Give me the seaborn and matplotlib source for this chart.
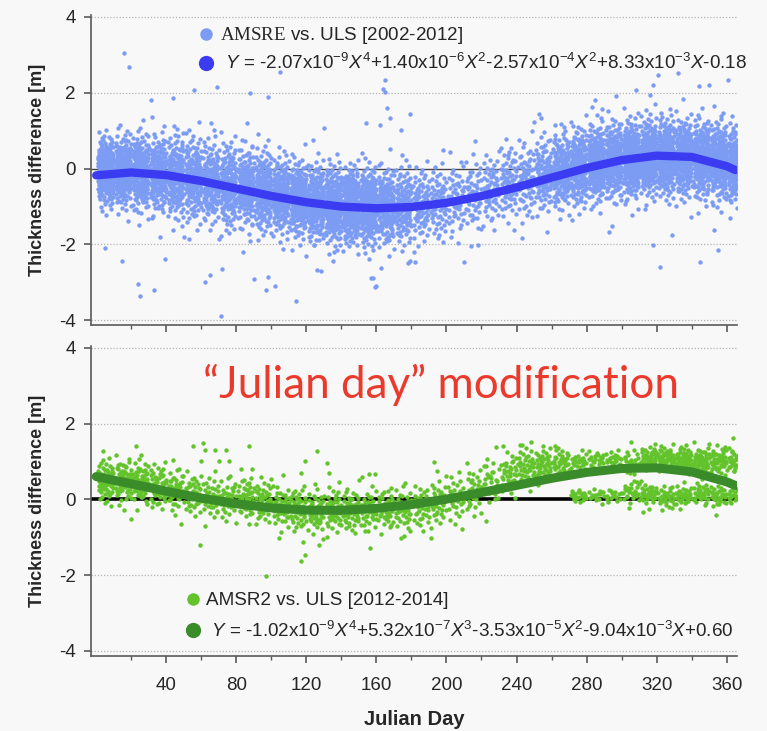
import matplotlib
matplotlib.use("Agg")
import matplotlib.pyplot as plt
import numpy as np
import pandas as pd
import seaborn as sns
from matplotlib.lines import Line2D
from matplotlib.ticker import FixedLocator, MultipleLocator
from statistics import NormalDist

# ---------------------------------------------------------------------------
# values
# ---------------------------------------------------------------------------
# AMSRE vs ULS: 10-day bins -> bin start, centre of the cloud, spread, number of dots
amsre_bin_start = list(range(0, 370, 10))
amsre_centre = [-0.05, -0.05, -0.1, -0.15, -0.2, -0.25, -0.35, -0.45, -0.5, -0.6,
                -0.7, -0.8, -0.9, -0.95, -1.0, -1.0, -1.0, -1.0, -0.95, -0.9,
                -0.8, -0.7, -0.55, -0.4, -0.3, -0.15, -0.05, 0.05, 0.15, 0.2,
                0.25, 0.3, 0.3, 0.3, 0.25, 0.2, 0.1]
amsre_spread = [0.45, 0.45, 0.5, 0.5, 0.55, 0.55, 0.55, 0.55, 0.55, 0.55,
                0.5, 0.5, 0.5, 0.5, 0.5, 0.5, 0.5, 0.5, 0.5, 0.5,
                0.5, 0.5, 0.5, 0.5, 0.5, 0.5, 0.5, 0.5, 0.5, 0.5,
                0.5, 0.5, 0.5, 0.5, 0.5, 0.5, 0.5]
amsre_count = [210, 210, 190, 170, 160, 150, 150, 150, 150, 160,
               170, 180, 200, 210, 210, 200, 170, 120, 80, 65,
               55, 55, 55, 65, 70, 100, 150, 180, 200, 210,
               210, 210, 210, 210, 210, 210, 120]
# sparse dots far from the cloud
amsre_out_day = [16, 19, 56, 69, 105, 88, 98, 165, 164, 44, 31,
                 71, 114, 25, 24, 33, 62, 65, 72, 90, 97, 98, 102, 160, 158,
                 5, 15, 39, 50, 120, 136,
                 165, 166, 168, 162, 174, 179, 154, 130,
                 126, 159, 157, 178, 182, 210, 218, 198, 231, 235,
                 321, 332, 344, 361, 350, 318, 308, 316, 285, 289, 254, 250, 262,
                 322, 345, 355, 318, 329, 293, 243, 362, 353]
amsre_out_val = [3.05, 2.69, 2.07, 2.16, 2.55, 2.0, 1.9, 2.33, 2.1, 1.85, 1.8,
                 -3.89, -3.5, -3.36, -3.05, -3.2, -2.99, -2.8, -2.66, -2.92, -3.2, -2.87, -3.1, -3.1, -2.9,
                 -2.1, -2.45, -2.4, -1.8, -2.3, -2.2,
                 2.03, 1.6, 1.32, 1.15, 1.02, 1.45, 1.19, 1.06,
                 -2.68, -3.12, -2.9, -2.5, -2.46, -2.46, -2.02, 0.49, 0.53, 0.36,
                 2.47, 2.51, 2.18, 2.34, 2.2, 2.2, 2.07, 1.94, 1.8, 1.58, 1.32, 1.24, 1.15,
                 -2.59, -2.46, -2.15, -2.02, -1.76, -1.67, -1.83, -1.31, -1.62]
amsre_fit_day = [0, 20, 40, 60, 80, 100, 120, 140, 160, 180,
                 200, 220, 240, 260, 280, 300, 320, 340, 360, 365]
amsre_fit_val = [-0.18, -0.105, -0.174, -0.330, -0.526, -0.724, -0.891, -1.005, -1.049, -1.016,
                 -0.906, -0.728, -0.498, -0.240, 0.013, 0.222, 0.339, 0.306, 0.062, -0.041]

# AMSR2 vs ULS: main band, 10-day bins
amsr2_bin_start = list(range(0, 370, 10))
amsr2_centre = [0.5, 0.5, 0.45, 0.35, 0.25, 0.15, 0.05, 0.0, 0.05, -0.05,
                -0.2, -0.25, -0.3, -0.3, -0.3, -0.3, -0.25, -0.25, -0.2, -0.1,
                0.05, 0.2, 0.45, 0.7, 0.85, 0.9, 0.95, 1.0, 1.05, 1.05,
                0.95, 1.1, 1.1, 1.05, 1.0, 1.0, 1.0]
amsr2_spread = [0.3, 0.3, 0.3, 0.3, 0.3, 0.3, 0.3, 0.3, 0.3, 0.3,
                0.3, 0.3, 0.3, 0.3, 0.3, 0.3, 0.3, 0.3, 0.3, 0.35,
                0.35, 0.35, 0.35, 0.3, 0.25, 0.25, 0.2, 0.12, 0.12, 0.12,
                0.2, 0.15, 0.15, 0.18, 0.2, 0.2, 0.2]
amsr2_count = [60, 60, 55, 50, 45, 40, 35, 35, 45, 45,
               45, 45, 50, 45, 45, 40, 40, 40, 35, 35,
               30, 30, 30, 35, 40, 40, 35, 25, 20, 20,
               25, 40, 45, 45, 45, 45, 25]
# AMSR2 vs ULS: second (lower) band late in the year
amsr2_low_start = [270, 280, 290, 300, 310, 320, 330, 340, 350, 360]
amsr2_low_centre = [0.1, 0.1, 0.1, 0.2, 0.15, 0.05, 0.1, 0.15, 0.1, 0.1]
amsr2_low_spread = [0.1, 0.1, 0.1, 0.15, 0.15, 0.15, 0.15, 0.15, 0.15, 0.15]
amsr2_low_count = [20, 15, 15, 25, 30, 30, 30, 30, 30, 15]
amsr2_out_day = [4, 23, 55, 61, 62, 68, 74, 87, 70, 76, 60, 89, 126, 132, 119, 117,
                 133, 156, 159, 150, 59, 118, 119, 117, 97, 127, 176, 20,
                 193, 191, 213, 232, 242, 248, 255, 262, 350, 363, 358, 354, 312, 304, 319]
amsr2_out_val = [1.27, 1.4, 1.4, 1.49, 1.3, 1.3, 1.3, 1.4, 1.01, 1.01, 1.01, 0.79, 1.27, 0.96, 1.01, 0.7,
                 0.7, 0.68, 0.68, 0.51, -1.21, -1.12, -1.47, -1.62, -2.02, -1.21, -0.98, -0.51,
                 0.98, -1.01, 0.7, 1.4, 1.42, 1.51, 1.4, 1.4, 1.47, 1.27, 1.3, -0.42, -0.33, -0.24, 1.45]
amsr2_fit_day = [0, 20, 40, 60, 80, 100, 120, 140, 160, 180,
                 200, 220, 240, 260, 280, 300, 320, 340, 360, 365]
amsr2_fit_val = [0.60, 0.409, 0.213, 0.032, -0.119, -0.227, -0.285, -0.290, -0.239, -0.139,
                 0.004, 0.178, 0.367, 0.553, 0.710, 0.813, 0.830, 0.725, 0.460, 0.364]

x_major_ticks = [40, 80, 120, 160, 200, 240, 280, 320, 360]
x_minor_ticks = [20, 60, 100, 140, 180, 220, 260, 300, 340]

AMSRE_LABEL = r"$\mathsf{AMSRE}$ vs. ULS [2002-2012]"
AMSRE_FIT_LABEL = (r" $Y$ = -2.07x10$^{-9}$$X^{4}$+1.40x10$^{-6}$$X^{2}$-2.57x10$^{-4}$$X^{2}$"
                   r"+8.33x10$^{-3}$$X$-0.18")
AMSR2_LABEL = "AMSR2 vs. ULS [2012-2014]"
AMSR2_FIT_LABEL = (r" $Y$ = -1.02x10$^{-9}$$X^{4}$+5.32x10$^{-7}$$X^{3}$-3.53x10$^{-5}$$X^{2}$"
                   r"-9.04x10$^{-3}$$X$+0.60")

LIGHT_BLUE = "#7c9cf4"
DARK_BLUE = "#3b3cf2"
LIGHT_GREEN = "#62c32b"
DARK_GREEN = "#3a8c2a"
BG = "#f8f8f8"


def vdc(k, base):
    # van der Corput sequence: spreads the dots of a bin evenly
    f, r = 1.0, 0.0
    while k > 0:
        f /= base
        r += f * (k % base)
        k //= base
    return r


def expand_bins(starts, centres, spreads, counts):
    nd = NormalDist()
    days, vals = [], []
    k = 1
    for s, c, sd, n in zip(starts, centres, spreads, counts):
        width = min(10, 366 - s)
        for _ in range(n):
            days.append(s + 1 + (width - 1) * vdc(k, 2))
            vals.append(c + sd * nd.inv_cdf(vdc(k, 3)))
            k += 1
    return days, vals


amsre_days, amsre_vals = expand_bins(amsre_bin_start, amsre_centre, amsre_spread, amsre_count)
amsre_df = pd.DataFrame({'day': amsre_days + amsre_out_day, 'diff': amsre_vals + amsre_out_val})

d1, v1 = expand_bins(amsr2_bin_start, amsr2_centre, amsr2_spread, amsr2_count)
d2, v2 = expand_bins(amsr2_low_start, amsr2_low_centre, amsr2_low_spread, amsr2_low_count)
amsr2_df = pd.DataFrame({'day': d1 + d2 + amsr2_out_day, 'diff': v1 + v2 + amsr2_out_val})

amsre_fit = pd.DataFrame({'day': amsre_fit_day, 'diff': amsre_fit_val})
amsr2_fit = pd.DataFrame({'day': amsr2_fit_day, 'diff': amsr2_fit_val})

sns.set_style("ticks")
plt.rcParams['font.family'] = ['Liberation Sans', 'DejaVu Sans']
plt.rcParams['axes.unicode_minus'] = False
plt.rcParams['mathtext.fontset'] = 'custom'
plt.rcParams['mathtext.rm'] = 'Liberation Sans'
plt.rcParams['mathtext.it'] = 'Liberation Sans:italic'
plt.rcParams['mathtext.sf'] = 'Liberation Serif'

fig = plt.figure(figsize=(7.67, 7.31), dpi=100, facecolor=BG)
ax_top = fig.add_axes([0.1186, 0.5554, 0.8425, 0.424])
ax_bot = fig.add_axes([0.1186, 0.1029, 0.8425, 0.424])


def style_axes(ax, zero_lw, zero_color):
    ax.set_facecolor(BG)
    ax.set_xlim(-3, 366)
    ax.set_ylim(-4.13, 4.05)
    ax.xaxis.set_major_locator(FixedLocator(x_major_ticks))
    ax.xaxis.set_minor_locator(FixedLocator(x_minor_ticks))
    ax.yaxis.set_major_locator(MultipleLocator(2))
    for y in (-4, -2, 2, 4):
        ax.axhline(y, color='#b5b5b5', lw=0.9, ls=(0, (1, 1.5)), zorder=0)
    ax.axhline(0, color=zero_color, lw=zero_lw, zorder=1)
    for side in ('top', 'right'):
        ax.spines[side].set_visible(False)
    for side in ('left', 'bottom'):
        ax.spines[side].set_color('#5a5a5a')
        ax.spines[side].set_linewidth(1.2)
    ax.tick_params(axis='both', which='major', length=5, width=1.2, color='#5a5a5a',
                   labelsize=13.5, pad=6)
    ax.tick_params(axis='x', which='major', pad=10)
    ax.tick_params(axis='x', which='minor', length=3, width=1.0, color='#5a5a5a')


# --- top panel: AMSRE ---
style_axes(ax_top, 1.0, '#444444')
sns.scatterplot(data=amsre_df, x='day', y='diff', ax=ax_top, color=LIGHT_BLUE, s=10,
                linewidth=0, zorder=2, legend=False)
sns.lineplot(data=amsre_fit, x='day', y='diff', ax=ax_top, color=DARK_BLUE, lw=6,
             zorder=3, legend=False)
ax_top.set_xlabel('')
ax_top.tick_params(axis='x', labelbottom=False)
ax_top.set_ylabel('Thickness difference [m]', fontsize=13, fontweight='bold', labelpad=9)
h_top = [Line2D([], [], ls='', marker='o', markersize=9, color=LIGHT_BLUE, mew=0),
         Line2D([], [], ls='', marker='o', markersize=11, color=DARK_BLUE, mew=0)]
ax_top.legend(h_top, [AMSRE_LABEL, AMSRE_FIT_LABEL], loc='upper left',
              bbox_to_anchor=(0.148, 1.0), frameon=False, fontsize=13.6,
              handletextpad=0.2, labelspacing=0.35, borderaxespad=0.15, handlelength=1.0)

# --- bottom panel: AMSR2 ---
style_axes(ax_bot, 2.6, 'black')
sns.scatterplot(data=amsr2_df, x='day', y='diff', ax=ax_bot, color=LIGHT_GREEN, s=10,
                linewidth=0, zorder=2, legend=False)
sns.lineplot(data=amsr2_fit, x='day', y='diff', ax=ax_bot, color=DARK_GREEN, lw=6.5,
             zorder=3, legend=False)
ax_bot.set_xlabel('Julian Day', fontsize=14.5, fontweight='bold', labelpad=12)
ax_bot.set_ylabel('Thickness difference [m]', fontsize=13, fontweight='bold', labelpad=9)
h_bot = [Line2D([], [], ls='', marker='o', markersize=9, color=LIGHT_GREEN, mew=0),
         Line2D([], [], ls='', marker='o', markersize=11, color=DARK_GREEN, mew=0)]
ax_bot.legend(h_bot, [AMSR2_LABEL, AMSR2_FIT_LABEL], loc='lower left',
              bbox_to_anchor=(0.12, 0.0), frameon=False, fontsize=13.6,
              handletextpad=0.2, labelspacing=0.6, borderaxespad=0.4, handlelength=1.0)

ax_bot.text(0.542, 0.873, '\u201cJulian day\u201d modification', transform=ax_bot.transAxes,
            ha='center', va='center', fontsize=31.7, color='#ea3a2b', family=['Lato', 'DejaVu Sans'])

fig.savefig('out.png', dpi=100, facecolor=BG)
